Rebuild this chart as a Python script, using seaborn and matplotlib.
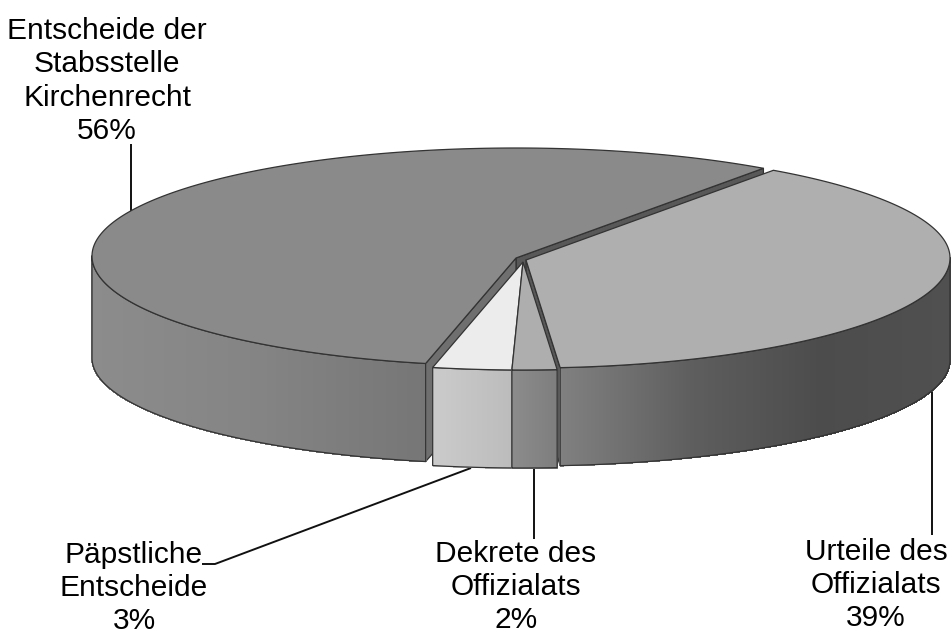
import numpy as np
import matplotlib
matplotlib.use("Agg")
import matplotlib.pyplot as plt
import seaborn as sns

# slice values in percent, labels show them rounded
names = ["Entscheide der\nStabsstelle\nKirchenrecht", "Päpstliche\nEntscheide", "Dekrete des\nOffizialats", "Urteile des\nOffizialats"]
values = [56.5, 3.0, 1.7, 38.8]

top_colors = ["#8a8a8a", "#ececec", "#aeaeae", "#afafaf"]
wall_colors = [
    ["#8c8c8c", "#848484", "#767676"],
    ["#cbcbcb", "#bcbcbc"],
    ["#8c8c8c", "#7e7e7e"],
    ["#808080", "#5e5e5e", "#4c4c4c", "#505050"],
]
centers = [(516, 256), (523, 260), (523, 260), (526, 258)]
face_colors = {"right": "#585858", "left": "#6f6f6f"}

START = 54.3
RX = 424
RY_BACK = 108
RY_FRONT = 110
RY_BOTTOM = 106
DEPTH = 102
EDGE = "#333333"

label_pos = [(107, 81), (134, 588), (516, 587), (876, 585)]
leaders = [
    [(131, 144), (131, 214)],
    [(202, 564), (215, 564), (471, 468)],
    [(534, 469), (534, 539)],
    [(932, 388), (932, 535)],
]


def top_pts(c, deg):
    t = np.radians(deg)
    s = np.sin(t)
    ry = np.where(s > 0, RY_BACK, RY_FRONT)
    return c[0] + RX * np.cos(t), c[1] - ry * s


def bottom_pts(c, deg):
    t = np.radians(deg)
    return c[0] + RX * np.cos(t), c[1] + DEPTH - RY_BOTTOM * np.sin(t)


def draw_face(ax, c, deg, color):
    ex, ey = top_pts(c, np.array([deg]))
    bx, by = bottom_pts(c, np.array([deg]))
    xs = [c[0], ex[0], bx[0], c[0]]
    ys = [c[1] + 2, ey[0], by[0], c[1] + DEPTH]
    ax.fill(xs, ys, facecolor=color, edgecolor=EDGE, lw=0.9, joinstyle="round")


def draw_wall(ax, c, a0, a1, colors):
    # only the part of the rim that faces the viewer
    lo, hi = max(a0, 180), min(a1, 360)
    if hi <= lo:
        return
    deg = np.linspace(lo, hi, 160)
    tx, ty = top_pts(c, deg)
    bx, by = bottom_pts(c, deg)
    cmap = sns.blend_palette(colors, as_cmap=True)
    for i in range(len(deg) - 1):
        frac = (tx[i] - tx.min()) / (tx.max() - tx.min())
        col = cmap(frac)
        ax.fill([tx[i], tx[i + 1], bx[i + 1], bx[i]], [ty[i], ty[i + 1], by[i + 1], by[i]],
                facecolor=col, edgecolor=col, lw=0.6, antialiased=False)
    ax.fill(np.r_[tx, bx[::-1]], np.r_[ty, by[::-1]], facecolor="none", edgecolor=EDGE, lw=0.9)


def draw_top(ax, c, a0, a1, color):
    deg = np.linspace(a0, a1, 200)
    x, y = top_pts(c, deg)
    ax.fill(np.r_[c[0], x], np.r_[c[1] + 2, y], facecolor=color, edgecolor=EDGE, lw=0.9)


sns.set_theme(style="white")
plt.rcParams["font.family"] = ["Liberation Sans", "DejaVu Sans"]

fig, ax = plt.subplots(figsize=(9.51, 6.35), dpi=100)
ax.set_position([0, 0, 1, 1])

angles = START + np.cumsum(np.r_[0, np.array(values) * 3.6])
a = list(zip(angles[:-1], angles[1:]))

# leader lines sit behind the pie
for pts in leaders:
    ax.plot(*zip(*pts), color="#111111", lw=1.4, solid_capstyle="butt", zorder=0)

# big slice, its two cut faces show through the gaps
draw_face(ax, centers[0], a[0][0], face_colors["right"])
draw_face(ax, centers[0], a[0][1], face_colors["left"])
draw_wall(ax, centers[0], a[0][0], a[0][1], wall_colors[0])
draw_top(ax, centers[0], a[0][0], a[0][1], top_colors[0])

# right slice
draw_face(ax, centers[3], a[3][0], face_colors["right"])
draw_wall(ax, centers[3], a[3][0], a[3][1], wall_colors[3])
draw_top(ax, centers[3], a[3][0], a[3][1], top_colors[3])

# two small slices in front
for i in [1, 2]:
    draw_wall(ax, centers[i], a[i][0], a[i][1], wall_colors[i])
    draw_top(ax, centers[i], a[i][0], a[i][1], top_colors[i])

for name, val, (x, y) in zip(names, values, label_pos):
    ax.text(x, y, f"{name}\n{val:.0f}%", ha="center", va="center", fontsize=21.5,
            color="black", linespacing=1.24)

ax.set_xlim(0, 951)
ax.set_ylim(635, 0)
ax.axis("off")
fig.savefig("out.png", dpi=100, facecolor="white")
